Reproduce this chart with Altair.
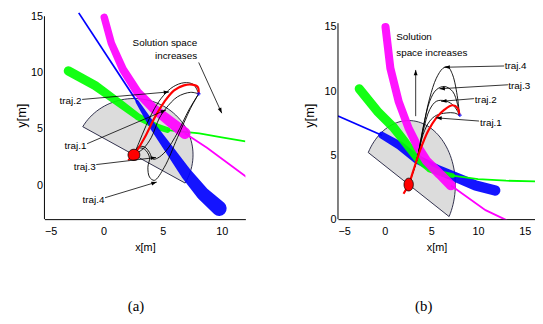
import math
import altair as alt
import numpy as np
import pandas as pd

# ---------------- shared scene values (metres) ----------------
ROBOT_X, ROBOT_Y = 2.57, 2.70
ROBOT_R = 0.5
SENSOR_R = 5.0
SENSOR_HEADING = 60.0   # degrees, direction of the half-disc
GOAL_X, GOAL_Y = 8.05, 8.12

# ---------------- panel (a) ----------------
A_XDOM = [-5, 12]
A_YDOM = [-3, 15.44]
A_YAXIS_TOP = 15
A_XTICKS = [-5, 0, 5, 10]
A_YTICKS = [0, 5, 10, 15]

A_BLUE_LINE_X = [-2.1, 2.85]
A_BLUE_LINE_Y = [15.3, 7.4]
A_BLUE_BAND_X = [2.85, 4.25, 5.64, 7.02, 8.4, 9.78]
A_BLUE_BAND_Y = [7.4, 5.1, 3.05, 1.0, -0.75, -2.05]
A_BLUE_BAND_W = [0.3, 0.6, 0.8, 1.0, 1.15, 1.3]

A_GREEN_BAND_X = [-2.98, -0.72, 1.22, 2.88, 4.54, 5.4]
A_GREEN_BAND_Y = [10.15, 8.85, 7.4, 6.1, 5.2, 4.9]
A_GREEN_BAND_W = [0.8, 0.8, 0.7, 0.6, 0.55, 0.5]
A_GREEN_LINE_X = [5.4, 8.1, 10.0, 12.0]
A_GREEN_LINE_Y = [4.9, 4.6, 4.25, 3.9]

A_MAGENTA_BAND_X = [0.06, 0.66, 1.63, 2.88, 4.25, 5.64, 6.88]
A_MAGENTA_BAND_Y = [14.9, 12.6, 10.3, 8.25, 6.8, 5.65, 4.62]
A_MAGENTA_BAND_W = [0.65, 0.65, 0.7, 0.75, 0.8, 0.9, 1.0]
A_MAGENTA_LINE_X = [6.88, 8.75, 12.1]
A_MAGENTA_LINE_Y = [4.62, 3.34, 0.73]

A_RED_X = [2.08, 2.57, 3.47, 4.30, 5.14, 5.97, 6.80, 7.50, 7.97, 8.05]
A_RED_Y = [2.24, 2.70, 4.22, 5.96, 7.41, 8.43, 8.87, 8.93, 8.72, 8.12]

A_TRAJ1_X = [2.57, 3.35, 4.03, 4.72, 5.28, 6.25, 7.36, 8.05]
A_TRAJ1_Y = [2.70, 3.25, 4.22, 5.96, 6.83, 7.85, 8.25, 8.12]
A_TRAJ2_X = [2.57, 3.0, 3.6, 4.3, 5.1, 5.9, 6.8, 7.6, 8.05]
A_TRAJ2_Y = [2.70, 3.8, 5.3, 6.8, 8.0, 8.75, 9.1, 8.95, 8.12]
A_TRAJ3_X = [2.57, 2.91, 3.47, 3.89, 4.17, 4.58, 5.28, 6.25, 7.22, 8.05]
A_TRAJ3_Y = [2.70, 3.40, 3.40, 2.91, 2.33, 2.42, 3.05, 4.65, 6.69, 8.12]
A_TRAJ4_X = [2.57, 2.91, 3.47, 3.89, 3.75, 3.89, 4.30, 5.14, 6.25, 7.36, 8.05]
A_TRAJ4_Y = [2.70, 3.29, 3.20, 2.47, 1.60, 0.73, 0.44, 1.60, 4.22, 6.83, 8.12]

A_LABELS = ["traj.1", "traj.2", "traj.3", "traj.4"]
A_LABEL_X = [-1.45, -1.87, -0.67, 0.08]
A_LABEL_Y = [3.49, 7.48, 1.60, -1.30]
A_ARROW_X0 = [-1.39, -1.81, -0.62, 0.13]
A_ARROW_Y0 = [3.69, 7.62, 1.84, -1.10]
A_ARROW_X1 = [5.28, 5.55, 4.44, 4.50]
A_ARROW_Y1 = [6.69, 8.29, 2.47, 0.29]

A_NOTE_LINES = ["Solution space", "increases"]
A_NOTE_X = [7.92, 7.92]
A_NOTE_Y = [12.65, 11.43]
A_NOTE_ARROW = [8.05, 10.9, 10.0, 6.4]   # x0, y0, x1, y1

# ---------------- panel (b) ----------------
B_XDOM = [-5, 16.1]
B_YDOM = [0, 16.23]
B_YAXIS_TOP = 15.3
B_XTICKS = [-5, 0, 5, 10, 15]
B_YTICKS = [0, 5, 10, 15]

B_BLUE_LINE_X = [-5.0, -0.3]
B_BLUE_LINE_Y = [8.05, 6.55]
B_BLUE_BAND_X = [-0.3, 1.66, 3.42, 5.53, 7.63, 9.74, 11.84]
B_BLUE_BAND_Y = [6.55, 5.72, 4.69, 3.92, 3.27, 2.63, 2.24]
B_BLUE_BAND_W = [0.6, 0.75, 0.75, 0.8, 0.85, 0.9, 0.9]

B_GREEN_BAND_X = [-2.72, -0.79, 0.9, 2.2, 3.42, 4.82, 6.23, 7.28]
B_GREEN_BAND_Y = [10.18, 8.43, 7.2, 6.0, 4.82, 3.92, 3.53, 3.4]
B_GREEN_BAND_W = [0.8, 0.8, 0.8, 0.75, 0.7, 0.6, 0.5, 0.4]
B_GREEN_LINE_X = [7.28, 10.0, 13.0, 16.1]
B_GREEN_LINE_Y = [3.4, 3.12, 3.0, 2.95]

B_MAGENTA_BAND_X = [0.09, 0.61, 1.49, 2.54, 3.5, 4.47, 5.88, 7.1]
B_MAGENTA_BAND_Y = [15.0, 11.78, 9.2, 7.14, 5.7, 4.56, 3.53, 2.63]
B_MAGENTA_BAND_W = [0.7, 0.7, 0.7, 0.7, 0.75, 0.8, 0.85, 0.85]
B_MAGENTA_LINE_X = [7.1, 10.8, 13.1]
B_MAGENTA_LINE_Y = [2.63, 0.7, -0.1]

B_RED_X = [2.02, 2.57, 3.07, 3.77, 4.65, 5.53, 6.40, 7.28, 7.81, 8.0]
B_RED_Y = [1.98, 2.70, 3.79, 5.33, 6.88, 7.91, 8.55, 8.89, 8.68, 8.12]

B_TRAJ1_X = [2.57, 3.42, 4.12, 4.82, 5.53, 6.58, 7.46, 8.0]
B_TRAJ1_Y = [2.70, 4.56, 6.62, 7.65, 8.10, 8.29, 8.29, 8.12]
B_TRAJ2_X = [2.57, 3.42, 4.12, 4.82, 5.53, 6.40, 7.28, 7.81, 8.0]
B_TRAJ2_Y = [2.70, 4.56, 6.88, 8.55, 9.20, 9.25, 8.94, 8.42, 8.12]
B_TRAJ3_X = [2.57, 3.42, 4.12, 4.82, 5.53, 6.40, 7.28, 7.81, 8.0]
B_TRAJ3_Y = [2.70, 4.56, 7.13, 9.20, 10.10, 10.36, 9.97, 8.94, 8.12]
B_TRAJ4_X = [2.57, 3.42, 4.12, 4.82, 5.53, 6.23, 6.75, 7.28, 7.81, 8.0]
B_TRAJ4_Y = [2.70, 4.56, 7.13, 9.45, 11.0, 11.77, 11.9, 11.26, 9.45, 8.12]

B_LABELS = ["traj.1", "traj.2", "traj.3", "traj.4"]
B_LABEL_X = [10.2, 9.66, 13.24, 12.85]
B_LABEL_Y = [7.48, 9.33, 10.36, 11.96]
B_ARROW_X0 = [10.1, 9.56, 13.2, 12.8]
B_ARROW_Y0 = [7.66, 9.41, 10.49, 11.96]
B_ARROW_X1 = [5.53, 6.05, 5.87, 6.4]
B_ARROW_Y1 = [7.91, 9.2, 10.18, 11.86]

B_NOTE_LINES = ["Solution", "space increases"]
B_NOTE_X = [1.24, 1.24]
B_NOTE_Y = [14.23, 12.94]
B_NOTE_ARROW = [3.32, 8.04, 3.32, 11.65]

# ---------------- styling ----------------
SANS = "Liberation Sans, Arial, sans-serif"
SERIF = "Liberation Serif, Times New Roman, serif"
ARROW_PATH = "M0,0L0.36,1L-0.36,1Z"
WIDTH_A, WIDTH_B, HEIGHT = 204, 200, 211


def line_df(xs, ys):
    return pd.DataFrame({"x": xs, "y": ys, "o": list(range(len(xs)))})


def band_df(xs, ys, ws):
    d = line_df(xs, ys)
    d["w"] = ws
    return d


def build_panel(p):
    kx = p["width"] / (p["xdom"][1] - p["xdom"][0])
    ky = HEIGHT / (p["ydom"][1] - p["ydom"][0])
    xsc = alt.Scale(domain=p["xdom"], nice=False, zero=False)
    ysc = alt.Scale(domain=p["ydom"], nice=False, zero=False)
    X = alt.X("x:Q", scale=xsc, axis=alt.Axis(values=p["xticks"], title="x[m]", format="d",
                                             labelPadding=7, titlePadding=5,
                                             titleFontSize=11))
    Y = alt.Y("y:Q", scale=ysc, axis=alt.Axis(values=p["yticks"], title="y[m]", format="d",
                                             domain=False, labelPadding=2,
                                             titlePadding=p["ytitlepad"], titleFontSize=13))
    O = alt.Order("o:Q")
    L = []

    # sensing half-disc
    a = np.radians(np.linspace(SENSOR_HEADING - 90, SENSOR_HEADING + 90, 61))
    sx = list(ROBOT_X + SENSOR_R * np.cos(a)) + [ROBOT_X + SENSOR_R * np.cos(a[0])]
    sy = list(ROBOT_Y + SENSOR_R * np.sin(a)) + [ROBOT_Y + SENSOR_R * np.sin(a[0])]
    L.append(alt.Chart(line_df(sx, sy)).mark_line(
        fill="#dcdcdc", stroke="#1a1a3a", strokeWidth=0.9, clip=True).encode(X, Y, O))

    size = alt.Size("w:Q", scale=alt.Scale(domain=[0, 1], range=[0, p["pxm"]]), legend=None)
    for key, col in p["order"]:
        bx, by, bw = p[key + "_band"]
        lx, ly = p[key + "_line"]
        L.append(alt.Chart(line_df(lx, ly)).mark_line(
            color=col, strokeWidth=1.8, clip=True).encode(X, Y, O))
        L.append(alt.Chart(band_df(bx, by, bw)).mark_trail(
            color=col, opacity=0.92, clip=True).encode(X, Y, O, size))

    # candidate trajectories
    tr = []
    for i, (tx, ty) in enumerate(p["trajs"]):
        d = line_df(tx, ty)
        d["traj"] = f"t{i + 1}"
        tr.append(d)
    L.append(alt.Chart(pd.concat(tr)).mark_line(
        color="black", strokeWidth=0.9, interpolate="catmull-rom", clip=True).encode(
        X, Y, O, detail="traj:N"))

    # executed path
    L.append(alt.Chart(line_df(*p["red"])).mark_line(
        color="#ff0000", strokeWidth=2.2, interpolate="catmull-rom", clip=True).encode(X, Y, O))

    # goal
    L.append(alt.Chart(pd.DataFrame({"x": [GOAL_X], "y": [GOAL_Y]})).mark_point(
        shape="cross", size=14, filled=True, color="#0000ff").encode(X, Y))

    # robot
    c = np.radians(np.linspace(0, 360, 41))
    L.append(alt.Chart(line_df(list(ROBOT_X + ROBOT_R * np.cos(c)),
                               list(ROBOT_Y + ROBOT_R * np.sin(c)))).mark_line(
        fill="#ff0000", stroke="black", strokeWidth=0.8).encode(X, Y, O))

    # arrows (line + head pointing from start to tip)
    x0 = list(p["ax0"]) + [p["note_arrow"][0]]
    y0 = list(p["ay0"]) + [p["note_arrow"][1]]
    x1 = list(p["ax1"]) + [p["note_arrow"][2]]
    y1 = list(p["ay1"]) + [p["note_arrow"][3]]
    ang = [(math.degrees(math.atan2((a1 - a0) * kx, (b1 - b0) * ky)) + 360) % 360
           for a0, b0, a1, b1 in zip(x0, y0, x1, y1)]
    adf = pd.DataFrame({"x": x0, "y": y0, "x2": x1, "y2": y1})
    L.append(alt.Chart(adf).mark_rule(color="black", strokeWidth=0.8).encode(
        X, Y, x2="x2:Q", y2="y2:Q"))
    hdf = pd.DataFrame({"x": x1, "y": y1, "ang": ang})
    L.append(alt.Chart(hdf).mark_point(
        shape=ARROW_PATH, size=120, filled=True, color="black", strokeWidth=0, opacity=1).encode(
        X, Y, angle=alt.Angle("ang:Q", scale=None)))

    # texts
    tdf = pd.DataFrame({"x": p["lx"], "y": p["ly"], "t": p["labels"]})
    L.append(alt.Chart(tdf).mark_text(
        align=p["label_align"], baseline="middle", font=SANS, fontSize=10, color="black").encode(
        X, Y, text="t:N"))
    ndf = pd.DataFrame({"x": p["nx"], "y": p["ny"], "t": p["notes"]})
    L.append(alt.Chart(ndf).mark_text(
        align=p["note_align"], baseline="middle", font=SANS, fontSize=10, color="black").encode(
        X, Y, text="t:N"))

    # y axis line
    L.append(alt.Chart(pd.DataFrame({"x": [p["xdom"][0]], "y": [p["ydom"][0]],
                                     "y2": [p["yaxis_top"]]})).mark_rule(
        color="black", strokeWidth=1).encode(X, Y, y2="y2:Q"))

    return alt.layer(*L).properties(
        width=p["width"], height=HEIGHT,
        title=alt.TitleParams(p["caption"], orient="bottom", font=SERIF, fontSize=15,
                              fontWeight="normal", offset=p["cap_offset"], dx=p["cap_dx"]))


PA = dict(
    xdom=A_XDOM, ydom=A_YDOM, yaxis_top=A_YAXIS_TOP, xticks=A_XTICKS, yticks=A_YTICKS,
    width=WIDTH_A, pxm=11.7, ytitlepad=2,
    order=[("green", "#00ff00"), ("blue", "#0000ff"), ("magenta", "#ff00ff")],
    blue_band=(A_BLUE_BAND_X, A_BLUE_BAND_Y, A_BLUE_BAND_W), blue_line=(A_BLUE_LINE_X, A_BLUE_LINE_Y),
    green_band=(A_GREEN_BAND_X, A_GREEN_BAND_Y, A_GREEN_BAND_W), green_line=(A_GREEN_LINE_X, A_GREEN_LINE_Y),
    magenta_band=(A_MAGENTA_BAND_X, A_MAGENTA_BAND_Y, A_MAGENTA_BAND_W),
    magenta_line=(A_MAGENTA_LINE_X, A_MAGENTA_LINE_Y),
    trajs=[(A_TRAJ1_X, A_TRAJ1_Y), (A_TRAJ2_X, A_TRAJ2_Y), (A_TRAJ3_X, A_TRAJ3_Y), (A_TRAJ4_X, A_TRAJ4_Y)],
    red=(A_RED_X, A_RED_Y),
    ax0=A_ARROW_X0, ay0=A_ARROW_Y0, ax1=A_ARROW_X1, ay1=A_ARROW_Y1, note_arrow=A_NOTE_ARROW,
    lx=A_LABEL_X, ly=A_LABEL_Y, labels=A_LABELS, label_align="right",
    nx=A_NOTE_X, ny=A_NOTE_Y, notes=A_NOTE_LINES, note_align="right",
    caption="(a)", cap_offset=47, cap_dx=-9,
)

PB = dict(
    xdom=B_XDOM, ydom=B_YDOM, yaxis_top=B_YAXIS_TOP, xticks=B_XTICKS, yticks=B_YTICKS,
    width=WIDTH_B, pxm=11.5, ytitlepad=8,
    order=[("blue", "#0000ff"), ("green", "#00ff00"), ("magenta", "#ff00ff")],
    blue_band=(B_BLUE_BAND_X, B_BLUE_BAND_Y, B_BLUE_BAND_W), blue_line=(B_BLUE_LINE_X, B_BLUE_LINE_Y),
    green_band=(B_GREEN_BAND_X, B_GREEN_BAND_Y, B_GREEN_BAND_W), green_line=(B_GREEN_LINE_X, B_GREEN_LINE_Y),
    magenta_band=(B_MAGENTA_BAND_X, B_MAGENTA_BAND_Y, B_MAGENTA_BAND_W),
    magenta_line=(B_MAGENTA_LINE_X, B_MAGENTA_LINE_Y),
    trajs=[(B_TRAJ1_X, B_TRAJ1_Y), (B_TRAJ2_X, B_TRAJ2_Y), (B_TRAJ3_X, B_TRAJ3_Y), (B_TRAJ4_X, B_TRAJ4_Y)],
    red=(B_RED_X, B_RED_Y),
    ax0=B_ARROW_X0, ay0=B_ARROW_Y0, ax1=B_ARROW_X1, ay1=B_ARROW_Y1, note_arrow=B_NOTE_ARROW,
    lx=B_LABEL_X, ly=B_LABEL_Y, labels=B_LABELS, label_align="left",
    nx=B_NOTE_X, ny=B_NOTE_Y, notes=B_NOTE_LINES, note_align="left",
    caption="(b)", cap_offset=47, cap_dx=-13,
)

chart = alt.hconcat(build_panel(PA), build_panel(PB), spacing=94, bounds="flush").properties(
    padding={"left": 7, "top": 0, "right": 0, "bottom": 0}
).configure_view(stroke=None).configure_axis(
    grid=False, ticks=False, domainColor="black", domainWidth=1,
    labelFont=SANS, labelFontSize=11, labelColor="black",
    titleFont=SANS, titleFontWeight="normal", titleColor="black",
)

chart.save("out.html", embed_options={"renderer": "svg", "actions": False})
